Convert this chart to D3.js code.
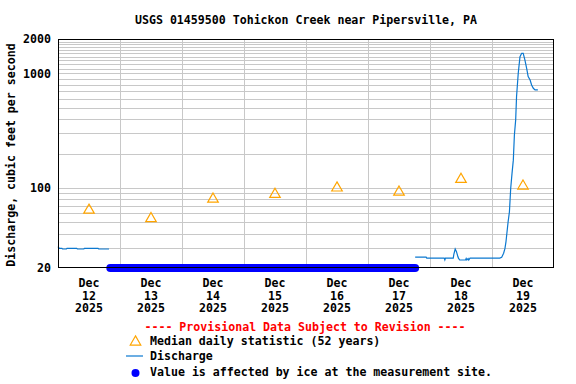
<!DOCTYPE html>
<html lang="en">
<head>
<meta charset="UTF-8" />
<title>USGS 01459500 Tohickon Creek near Pipersville, PA</title>
<script src="https://cdn.jsdelivr.net/npm/d3@7"></script>
<style>
  body { margin: 0; background: #fff; }
  svg { display: block; font-family: "DejaVu Sans Mono", monospace; font-weight: bold; font-size: 11.6px; }
</style>
</head>
<body>
<script>
// values
const dayLabels = ["12", "13", "14", "15", "16", "17", "18", "19"];
const medianTimes = ["2025-12-12 12:00", "2025-12-13 12:00", "2025-12-14 12:00", "2025-12-15 12:00",
                     "2025-12-16 12:00", "2025-12-17 12:00", "2025-12-18 12:00", "2025-12-19 12:00"];
const medianValues = [64, 54, 80, 88, 100, 92, 119, 104];

// discharge before the ice period
const flowTimesA = ["2025-12-12 00:00", "2025-12-12 00:30", "2025-12-12 01:30", "2025-12-12 01:45",
                    "2025-12-12 03:15", "2025-12-12 03:30", "2025-12-12 07:15", "2025-12-12 07:30",
                    "2025-12-12 10:00", "2025-12-12 10:15", "2025-12-12 15:30", "2025-12-12 15:45",
                    "2025-12-12 19:45"];
const flowValuesA = [30.8, 29.7, 29.7, 29.3, 29.3, 29.7, 29.7, 29.3, 29.3, 29.7, 29.7, 29.3, 29.3];

// discharge after the ice period
const flowTimesB = ["2025-12-17 18:15", "2025-12-17 22:30", "2025-12-17 22:45", "2025-12-18 05:30",
                    "2025-12-18 05:45", "2025-12-18 06:00", "2025-12-18 09:00", "2025-12-18 09:15",
                    "2025-12-18 09:45", "2025-12-18 10:15", "2025-12-18 10:45", "2025-12-18 11:00",
                    "2025-12-18 11:30", "2025-12-18 13:45", "2025-12-18 14:00", "2025-12-18 14:15",
                    "2025-12-18 14:45", "2025-12-18 15:00", "2025-12-18 15:30", "2025-12-19 03:00",
                    "2025-12-19 03:45", "2025-12-19 04:30", "2025-12-19 05:00", "2025-12-19 05:25",
                    "2025-12-19 05:45", "2025-12-19 06:15", "2025-12-19 06:45", "2025-12-19 07:00",
                    "2025-12-19 07:15", "2025-12-19 07:45", "2025-12-19 08:15", "2025-12-19 08:40",
                    "2025-12-19 09:10", "2025-12-19 09:30", "2025-12-19 10:10", "2025-12-19 10:50",
                    "2025-12-19 11:30", "2025-12-19 12:05", "2025-12-19 12:45", "2025-12-19 13:25",
                    "2025-12-19 14:00", "2025-12-19 14:45", "2025-12-19 15:20", "2025-12-19 16:00",
                    "2025-12-19 16:40", "2025-12-19 17:45"];
const flowValuesB = [24.9, 24.9, 24.4, 24.4, 23.5, 24.4, 24.4, 26.5, 29.3, 27.8, 25.3, 24.4,
                     23.5, 23.5, 24.2, 23.5, 24.2, 23.5, 24.4, 24.4, 24.8, 26.9, 29.5, 34,
                     40, 51, 62, 79, 100, 134, 175, 290, 393, 627, 1010, 1400,
                     1500, 1500, 1310, 1110, 938, 877, 793, 742, 718, 718];

const iceSpan = ["2025-12-12 20:15", "2025-12-17 18:15"];

const yLabels = [20, 100, 1000, 2000];
const gridValues = [30, 40, 50, 60, 70, 80, 90, 100, 200, 300, 400, 500, 600, 700, 800, 900,
                    1000, 1100, 1200, 1300, 1400, 1500, 1600, 1700, 1800, 1900];
const dayBreaks = ["2025-12-13 00:00", "2025-12-14 00:00", "2025-12-15 00:00", "2025-12-16 00:00",
                   "2025-12-17 00:00", "2025-12-18 00:00", "2025-12-19 00:00"];

const width = 576, height = 384;
const margin = { top: 39, right: 22, bottom: 116, left: 58 };
const parse = d3.utcParse("%Y-%m-%d %H:%M");

const svg = d3.select("body").append("svg")
  .attr("width", width)
  .attr("height", height);

const x = d3.scaleUtc()
  .domain([parse("2025-12-12 00:00"), parse("2025-12-20 00:00")])
  .range([margin.left, width - margin.right]);

const y = d3.scaleLog()
  .domain([20, 2000])
  .range([height - margin.bottom, margin.top]);

// grid
svg.append("g")
  .selectAll("line.h")
  .data(gridValues)
  .join("line")
  .attr("x1", margin.left)
  .attr("x2", width - margin.right)
  .attr("y1", d => Math.round(y(d)) + 0.5)
  .attr("y2", d => Math.round(y(d)) + 0.5)
  .attr("stroke", "#c8c8c8");

svg.append("g")
  .selectAll("line.v")
  .data(dayBreaks.map(parse))
  .join("line")
  .attr("x1", d => Math.round(x(d)) + 0.5)
  .attr("x2", d => Math.round(x(d)) + 0.5)
  .attr("y1", margin.top)
  .attr("y2", height - margin.bottom)
  .attr("stroke", "#c8c8c8");

// median triangles
const tri = d3.symbol().type(d3.symbolTriangle).size(48);
svg.append("g")
  .selectAll("path")
  .data(medianTimes.map((t, i) => [parse(t), medianValues[i]]))
  .join("path")
  .attr("d", tri)
  .attr("transform", d => `translate(${x(d[0])},${y(d[1])})`)
  .attr("fill", "none")
  .attr("stroke", "#ffa500")
  .attr("stroke-width", 1.2);

// discharge
const line = d3.line()
  .x(d => x(d[0]))
  .y(d => y(d[1]));

[[flowTimesA, flowValuesA], [flowTimesB, flowValuesB]].forEach(([ts, vs]) => {
  svg.append("path")
    .datum(ts.map((t, i) => [parse(t), vs[i]]))
    .attr("d", line)
    .attr("fill", "none")
    .attr("stroke", "#0b78d0")
    .attr("stroke-width", 1.2);
});

// ice affected period, drawn along the bottom
svg.append("line")
  .attr("x1", x(parse(iceSpan[0])))
  .attr("x2", x(parse(iceSpan[1])))
  .attr("y1", y(20))
  .attr("y2", y(20))
  .attr("stroke", "#0000ff")
  .attr("stroke-width", 8)
  .attr("stroke-linecap", "round");

// frame
svg.append("rect")
  .attr("x", margin.left + 0.5)
  .attr("y", margin.top + 0.5)
  .attr("width", width - margin.left - margin.right - 1)
  .attr("height", height - margin.top - margin.bottom - 1)
  .attr("fill", "none")
  .attr("stroke", "#000");

// y tick labels
svg.append("g")
  .selectAll("text")
  .data(yLabels)
  .join("text")
  .attr("x", 51)
  .attr("y", d => y(d))
  .attr("dy", "0.36em")
  .attr("text-anchor", "end")
  .text(d => d);

// x tick labels at noon of each day
const xl = svg.append("g")
  .selectAll("g")
  .data(medianTimes.map(parse))
  .join("g")
  .attr("transform", (d, i) => `translate(${x(d)},0)`)
  .attr("text-anchor", "middle");
xl.append("text").attr("y", 287).text("Dec");
xl.append("text").attr("y", 299.5).text((d, i) => dayLabels[i]);
xl.append("text").attr("y", 312).text("2025");

// titles
svg.append("text")
  .attr("x", 306)
  .attr("y", 24)
  .attr("text-anchor", "middle")
  .text("USGS 01459500 Tohickon Creek near Pipersville, PA");

svg.append("text")
  .attr("transform", "translate(15,155) rotate(-90)")
  .attr("text-anchor", "middle")
  .text("Discharge, cubic feet per second");

// legend
svg.append("text")
  .attr("x", 305)
  .attr("y", 330.5)
  .attr("text-anchor", "middle")
  .attr("fill", "#ff0000")
  .text("---- Provisional Data Subject to Revision ----");

svg.append("path")
  .attr("d", tri)
  .attr("transform", "translate(135.5,342)")
  .attr("fill", "none")
  .attr("stroke", "#ffa500")
  .attr("stroke-width", 1.2);
svg.append("text").attr("x", 150).attr("y", 345).text("Median daily statistic (52 years)");

svg.append("line")
  .attr("x1", 126).attr("x2", 143)
  .attr("y1", 356).attr("y2", 356)
  .attr("stroke", "#0b78d0")
  .attr("stroke-width", 1.2);
svg.append("text").attr("x", 150).attr("y", 360).text("Discharge");

svg.append("circle")
  .attr("cx", 135.5).attr("cy", 373)
  .attr("r", 4)
  .attr("fill", "#0000ff");
svg.append("text").attr("x", 150).attr("y", 376).text("Value is affected by ice at the measurement site.");
</script>
</body>
</html>
